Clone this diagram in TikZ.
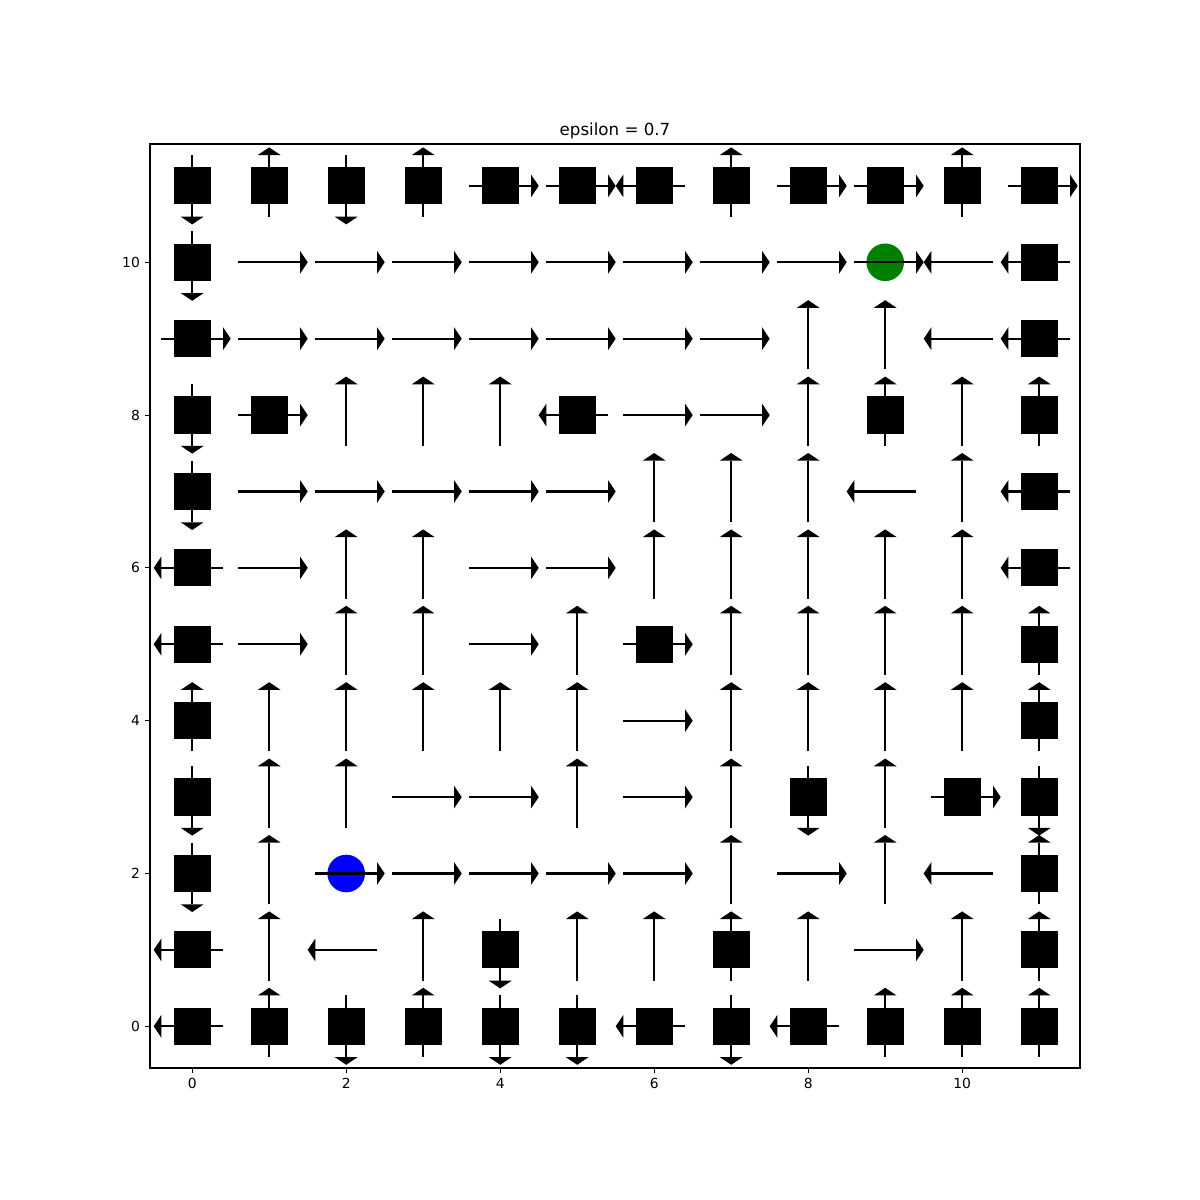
\documentclass[tikz,border=0pt]{standalone}
\usepackage{fontspec}
\setmainfont{DejaVu Sans}
\definecolor{mplgreen}{HTML}{008000}
\definecolor{mplblue}{HTML}{0000FF}
\tikzset{
  polline/.style={line width=1.05pt, line cap=butt},
  polhead/.style={fill=black},
  wallsq/.style={fill=black},
  frameline/.style={line width=0.56pt},
  tickline/.style={line width=0.56pt},
  ticklab/.style={font=\fontsize{6.94}{8}\selectfont, inner sep=0pt},
}
\newcommand\polarrow[3]{%
  \begin{scope}[shift={(#1,#2)},rotate=#3]
    \draw[polline] (-0.4,0) -- (0.4,0);
    \fill[polhead] (0.4,0.15) -- (0.5,0) -- (0.4,-0.15) -- cycle;
  \end{scope}}
\newcommand\wallbox[2]{\fill[wallsq] (#1,#2) ++(-9.3pt,-9.3pt) rectangle ++(18.6pt,18.6pt);}
\begin{document}
\begin{tikzpicture}
\useasboundingbox (0,0) rectangle (600pt,600pt);
\fill[white] (0,0) rectangle (600pt,600pt);
% title
\node[anchor=base, inner sep=0pt, font=\fontsize{8.33}{10}\selectfont] (title) at (307.5pt,532.2pt) {epsilon = 0.7};
\begin{scope}[shift={(96.1pt,86.85pt)}, x=38.5pt, y=38.2pt]
  % walls
  \foreach \i in {0,...,11} {\wallbox{\i}{11} \wallbox{\i}{0}}
  \foreach \i/\j in {0/10,11/10,0/9,11/9,0/8,1/8,5/8,9/8,11/8,0/7,11/7,0/6,11/6,0/5,6/5,11/5,0/4,11/4,0/3,8/3,10/3,11/3,0/2,11/2,0/1,4/1,7/1,11/1}
    {\wallbox{\i}{\j}}
  % start and goal
  \fill[mplgreen] (9,10) circle (9.4pt);
  \fill[mplblue] (2,2) circle (9.4pt);
  % policy arrows
  \foreach \i/\a in {0/270,1/90,2/270,3/90,4/0,5/0,6/180,7/90,8/0,9/0,10/90,11/0} {\polarrow{\i}{11}{\a}}
  \foreach \i/\a in {0/270,1/0,2/0,3/0,4/0,5/0,6/0,7/0,8/0,9/0,10/180,11/180} {\polarrow{\i}{10}{\a}}
  \foreach \i/\a in {0/0,1/0,2/0,3/0,4/0,5/0,6/0,7/0,8/90,9/90,10/180,11/180} {\polarrow{\i}{9}{\a}}
  \foreach \i/\a in {0/270,1/0,2/90,3/90,4/90,5/180,6/0,7/0,8/90,9/90,10/90,11/90} {\polarrow{\i}{8}{\a}}
  \foreach \i/\a in {0/270,1/0,2/0,3/0,4/0,5/0,6/90,7/90,8/90,9/180,10/90,11/180} {\polarrow{\i}{7}{\a}}
  \foreach \i/\a in {0/180,1/0,2/90,3/90,4/0,5/0,6/90,7/90,8/90,9/90,10/90,11/180} {\polarrow{\i}{6}{\a}}
  \foreach \i/\a in {0/180,1/0,2/90,3/90,4/0,5/90,6/0,7/90,8/90,9/90,10/90,11/90} {\polarrow{\i}{5}{\a}}
  \foreach \i/\a in {0/90,1/90,2/90,3/90,4/90,5/90,6/0,7/90,8/90,9/90,10/90,11/90} {\polarrow{\i}{4}{\a}}
  \foreach \i/\a in {0/270,1/90,2/90,3/0,4/0,5/90,6/0,7/90,8/270,9/90,10/0,11/270} {\polarrow{\i}{3}{\a}}
  \foreach \i/\a in {0/270,1/90,2/0,3/0,4/0,5/0,6/0,7/90,8/0,9/90,10/180,11/90} {\polarrow{\i}{2}{\a}}
  \foreach \i/\a in {0/180,1/90,2/180,3/90,4/270,5/90,6/90,7/90,8/90,9/0,10/90,11/90} {\polarrow{\i}{1}{\a}}
  \foreach \i/\a in {0/180,1/90,2/270,3/90,4/270,5/270,6/180,7/270,8/180,9/90,10/90,11/90} {\polarrow{\i}{0}{\a}}
  % ticks
  \foreach \t in {0,2,...,10} {
    \coordinate (xt\t) at (\t,-0.5458);
    \draw[tickline] (xt\t) -- ++(0,-2.43pt);
    \node[ticklab, anchor=north] (xl\t) at ([yshift=-4.86pt]xt\t) {\t};
    \coordinate (yt\t) at (-0.548,\t);
    \draw[tickline] (yt\t) -- ++(-2.43pt,0);
    \node[ticklab, anchor=east] (yl\t) at ([xshift=-4.86pt]yt\t) {\t};
  }
\end{scope}
% axes frame
\draw[frameline] (75pt,66pt) rectangle (540pt,528pt);
\end{tikzpicture}
\end{document}
